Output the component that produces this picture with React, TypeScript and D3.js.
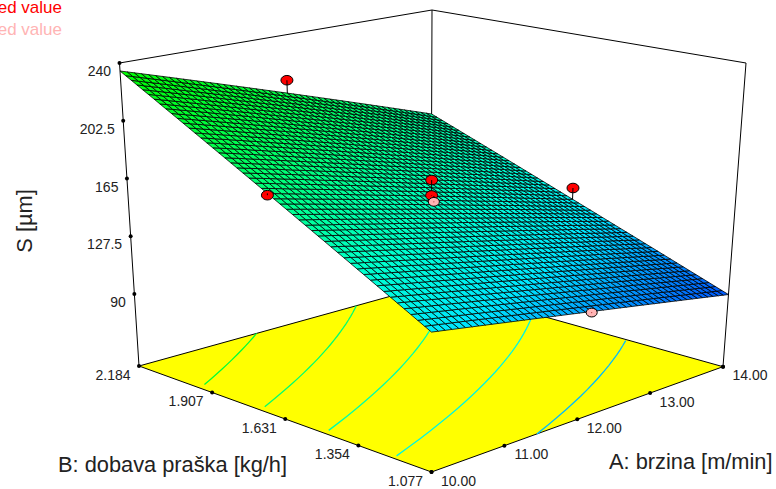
import React from "react";
import * as d3 from "d3";

const speedTicks = ["10.00", "11.00", "12.00", "13.00", "14.00"];
const feedTicks = ["1.077", "1.354", "1.631", "1.907", "2.184"];
const heightTicks = ["90", "127.5", "165", "202.5", "240"];
const heightTickValues = [90, 127.5, 165, 202.5, 240];
const speedRange = [10, 14];
const feedRange = [1.077, 2.184];
const heightRange = [43.25, 240];
// S at the four corners of the fitted surface: [A low, A high] for B low, then B high
const fittedLowFeed = [124.3, 90];
const fittedHighFeed = [234.8, 165.6];
const contourLevels = [113, 137, 161, 185, 209];
const meshCells = 50;
// design points: A, B, S
const pointsAbove = [
  [12, 2.184, 209],
  [14, 1.631, 135.5],
  [10, 1.631, 178.5],
  [12, 1.631, 164],
  [12, 1.631, 154],
];
const pointsBelow = [
  [12, 1.077, 106.5],
  [12.03, 1.631, 149.5],
];

type P = [number, number];
// box corners in pixels: front, right (A high), left (B high), back
const floorC: P[] = [[431.5, 472], [723, 366.7], [139, 366], [431, 285]];
const topC: P[] = [[431.5, 132.4], [746, 63], [119.5, 63], [432, 10]];
const depth = [1, 1.155, 1.155, 1.31];

const uScale = d3.scaleLinear().domain(speedRange).range([0, 1]);
const vScale = d3.scaleLinear().domain(feedRange).range([0, 1]);
const sScale = d3.scaleLinear().domain(heightRange).range([0, 1]);

function planar(c: P[], u: number, v: number): P {
  const k = [(1 - u) * (1 - v), u * (1 - v), (1 - u) * v, u * v].map((b, i) => b * depth[i]);
  const w = d3.sum(k);
  return [d3.sum(k.map((b, i) => b * c[i][0])) / w, d3.sum(k.map((b, i) => b * c[i][1])) / w];
}
function project(u: number, v: number, z: number): P {
  const f = planar(floorC, u, v);
  const t = planar(topC, u, v);
  const s = sScale(z);
  return [f[0] + (t[0] - f[0]) * s, f[1] + (t[1] - f[1]) * s];
}
function fitted(u: number, v: number) {
  const a = fittedLowFeed[0] + (fittedHighFeed[0] - fittedLowFeed[0]) * v;
  const b = fittedLowFeed[1] + (fittedHighFeed[1] - fittedLowFeed[1]) * v;
  return a + (b - a) * u;
}
const colour = d3
  .scaleLinear<string>()
  .domain([90, 106, 122, 146, 172, 204, 235])
  .range(["#0058ff", "#0098ff", "#00e8ff", "#00ffd0", "#00ff90", "#00ff40", "#00ff00"]);

const line = d3.line<P>();
const poly = (pts: P[]) => line(pts) + "Z";
const font = "'Liberation Sans', Arial, sans-serif";
const lerp = (a: P, b: P, t: number): P => [a[0] + (b[0] - a[0]) * t, a[1] + (b[1] - a[1]) * t];

function contourPath(level: number) {
  const pts: P[] = [];
  for (const v of d3.range(0, 1.0001, 0.02)) {
    const a = fitted(0, v);
    const b = fitted(1, v);
    const u = (level - a) / (b - a);
    if (u >= 0 && u <= 1) pts.push(planar(floorC, u, v));
  }
  return line(pts) || "";
}

export default function App() {
  const cells = d3.range(meshCells).flatMap((j) =>
    d3.range(meshCells).map((i) => {
      const [u0, u1, v0, v1] = [i / meshCells, (i + 1) / meshCells, j / meshCells, (j + 1) / meshCells];
      const at = (u: number, v: number) => project(u, v, fitted(u, v));
      return {
        d: poly([at(u0, v0), at(u1, v0), at(u1, v1), at(u0, v1)]),
        fill: colour(fitted((u0 + u1) / 2, (v0 + v1) / 2)),
      };
    })
  );
  const leftTop = topC[2], rightTop = topC[1], backTop = topC[3];
  const frontF = floorC[0], rightF = floorC[1], leftF = floorC[2], backF = floorC[3];
  const zAxis = d3.scaleLinear().domain(heightRange).range([0, 1]);
  const edge = { stroke: "#000", strokeWidth: 1, fill: "none" };
  const stem = (p: number[]) => {
    const u = uScale(p[0]), v = vScale(p[1]);
    return [project(u, v, fitted(u, v)), project(u, v, p[2])] as [P, P];
  };
  return (
    <svg width={776} height={489} style={{ position: "absolute", left: 0, top: 0, background: "#fff" }} fontFamily={font}>
      <text x={62} y={12.5} textAnchor="end" fontSize={17} fill="#ff0000">Design points above predicted value</text>
      <text x={62} y={34.5} textAnchor="end" fontSize={17} fill="#ffb4b4">Design points below predicted value</text>

      <path d={line([leftF, leftTop, backTop, rightTop, rightF])!} {...edge} />
      <path d={line([backF, backTop])!} {...edge} />

      <path d={poly([frontF, rightF, backF, leftF])} fill="#ffff00" stroke="#000" strokeWidth={1} />
      {contourLevels.map((l) => (
        <path key={l} d={contourPath(l)} fill="none" stroke={colour(l)} strokeWidth={1.3} />
      ))}

      <g stroke="#000" strokeWidth={0.8}>
        {cells.map((c, i) => (
          <path key={i} d={c.d} fill={c.fill} />
        ))}
      </g>

      {speedTicks.map((t, i) => {
        const p = lerp(frontF, rightF, i / (speedTicks.length - 1));
        return (
          <g key={t}>
            <circle cx={p[0]} cy={p[1]} r={2} fill="#000" />
            <text x={p[0] + 27} y={p[1] + 13.5} textAnchor="middle" fontSize={14} fill="#222">{t}</text>
          </g>
        );
      })}
      {feedTicks.map((t, i) => {
        const p = lerp(frontF, leftF, i / (feedTicks.length - 1));
        return (
          <g key={t}>
            <circle cx={p[0]} cy={p[1]} r={2} fill="#000" />
            <text x={p[0] - 26} y={p[1] + 13.5} textAnchor="middle" fontSize={14} fill="#222">{t}</text>
          </g>
        );
      })}
      {heightTicks.map((t, i) => {
        const p = lerp(leftF, leftTop, zAxis(heightTickValues[i]));
        return (
          <g key={t}>
            <circle cx={p[0]} cy={p[1]} r={2} fill="#000" />
            <text x={p[0] - 8.5} y={p[1] + 13} textAnchor="end" fontSize={14} fill="#222">{t}</text>
          </g>
        );
      })}
      <circle cx={rightF[0]} cy={rightF[1]} r={2} fill="#000" />

      <text transform="translate(32,221) rotate(-90)" textAnchor="middle" fontSize={21.8} fill="#222">S [µm]</text>
      <text x={58} y={472} fontSize={21.8} fill="#222">B: dobava praška [kg/h]</text>
      <text x={609} y={469} fontSize={21.8} fill="#222">A: brzina [m/min]</text>

      {pointsAbove.map((p, i) => {
        const [a, b] = stem(p);
        return (
          <g key={i}>
            <ellipse cx={b[0]} cy={b[1]} rx={6} ry={4.8} fill="#ff0000" stroke="#000" strokeWidth={1} />
            <path d={line([a, [b[0], b[1]]])!} stroke="#000" strokeWidth={1} fill="none" />
          </g>
        );
      })}
      {pointsBelow.map((p, i) => {
        const [a, b] = stem(p);
        return (
          <g key={i}>
            <path d={line([a, b])!} stroke="#000" strokeWidth={1} fill="none" />
            <ellipse cx={b[0]} cy={b[1]} rx={5.5} ry={4.4} fill="#ffb4b4" stroke="#000" strokeWidth={1} />
            <circle cx={b[0]} cy={b[1]} r={0.6} fill="#a33" />
          </g>
        );
      })}
    </svg>
  );
}
